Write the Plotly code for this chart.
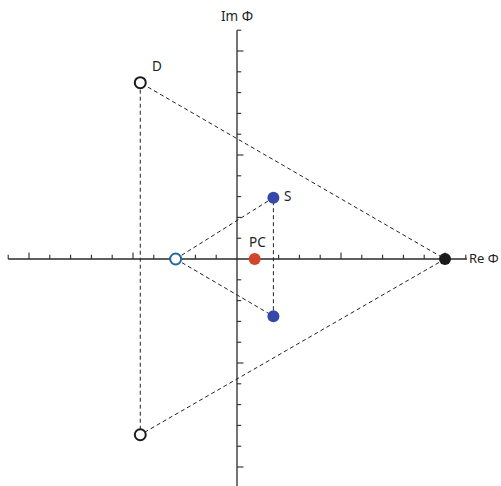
import plotly.graph_objects as go

# points (Re, Im)
big_tri_re = [-0.93, -0.93, 2.0]
big_tri_im = [1.695, -1.69, 0.0]
small_tri_re = [-0.59, 0.35, 0.35]
small_tri_im = [0.0, 0.59, -0.55]
pc_re, pc_im = [0.17], [0.0]
s_re, s_im = [0.35, 0.35], [0.59, -0.55]
d_re, d_im = [-0.93, -0.93], [1.695, -1.69]
open_re, open_im = [-0.59], [0.0]
end_re, end_im = [2.0], [0.0]

PX = 104.0  # pixels per unit
W, H = 501, 486
X0, Y0 = 237, 259
xr = [-X0 / PX, (W - X0) / PX]
yr = [-(H - Y0) / PX, Y0 / PX]

tick_vals = [round(i * 0.2, 1) for i in range(-11, 12) if i != 0]


def dash(xs, ys):
    return go.Scatter(x=xs, y=ys, mode="lines", hoverinfo="skip",
                      line=dict(color="#222", width=1, dash="4px,3px"))


fig = go.Figure()

# axes
fig.add_trace(go.Scatter(x=[-2.2, 2.21], y=[0, 0], mode="lines",
                         line=dict(color="#2a2a2a", width=1.3), hoverinfo="skip"))
fig.add_trace(go.Scatter(x=[0, 0], y=[-2.3, 2.2], mode="lines",
                         line=dict(color="#2a2a2a", width=1.3), hoverinfo="skip"))
tx, ty = [], []
for t in tick_vals:
    ln = 6.5 if abs(t - round(t)) < 1e-9 else 4.2
    tx += [t, t, None]
    ty += [0, ln / PX, None]
    tx += [0, ln / PX, None]
    ty += [t, t, None]
fig.add_trace(go.Scatter(x=tx, y=ty, mode="lines",
                         line=dict(color="#2a2a2a", width=1.1), hoverinfo="skip"))

# dashed triangles
fig.add_trace(dash(big_tri_re + [big_tri_re[0]], big_tri_im + [big_tri_im[0]]))
fig.add_trace(dash(small_tri_re + [small_tri_re[0]], small_tri_im + [small_tri_im[0]]))

# markers
fig.add_trace(go.Scatter(x=d_re, y=d_im, mode="markers",
                         marker=dict(size=11, color="white",
                                     line=dict(color="#1a1a1a", width=2))))
fig.add_trace(go.Scatter(x=open_re, y=open_im, mode="markers",
                         marker=dict(size=11, color="white",
                                     line=dict(color="#2466a0", width=2))))
fig.add_trace(go.Scatter(x=s_re, y=s_im, mode="markers",
                         marker=dict(size=12, color="#3547a8")))
fig.add_trace(go.Scatter(x=pc_re, y=pc_im, mode="markers",
                         marker=dict(size=12, color="#d2452b")))
fig.add_trace(go.Scatter(x=end_re, y=end_im, mode="markers",
                         marker=dict(size=12, color="#1a1a1a")))

fnt = dict(family="Noto Sans, Open Sans, sans-serif", size=13.5, color="#222")
labels = [
    ("D", -0.77, 1.86, "center"),
    ("S", 0.43, 0.61, "left"),
    ("PC", 0.2, 0.165, "center"),
    ("Im Φ", 0.0, 2.34, "center"),
]
for txt, x, y, anc in labels:
    fig.add_annotation(x=x, y=y, text=txt, showarrow=False, font=fnt,
                       xanchor=anc, yanchor="middle")
fig.add_annotation(x=1, xref="paper", y=0.01, text="Re Φ", showarrow=False,
                   font=dict(fnt, size=13), xanchor="right", yanchor="middle")

fig.update_layout(
    width=W, height=H,
    margin=dict(l=0, r=0, t=0, b=0),
    paper_bgcolor="white", plot_bgcolor="white",
    showlegend=False,
    xaxis=dict(range=xr, visible=False, fixedrange=True),
    yaxis=dict(range=yr, visible=False, fixedrange=True),
)

# drop the page's default body margin so the figure fills the window
fig.write_html("out.html",
               config={"displayModeBar": False},
               post_script="document.body.style.margin='0';"
                           "document.body.style.overflow='hidden';")
